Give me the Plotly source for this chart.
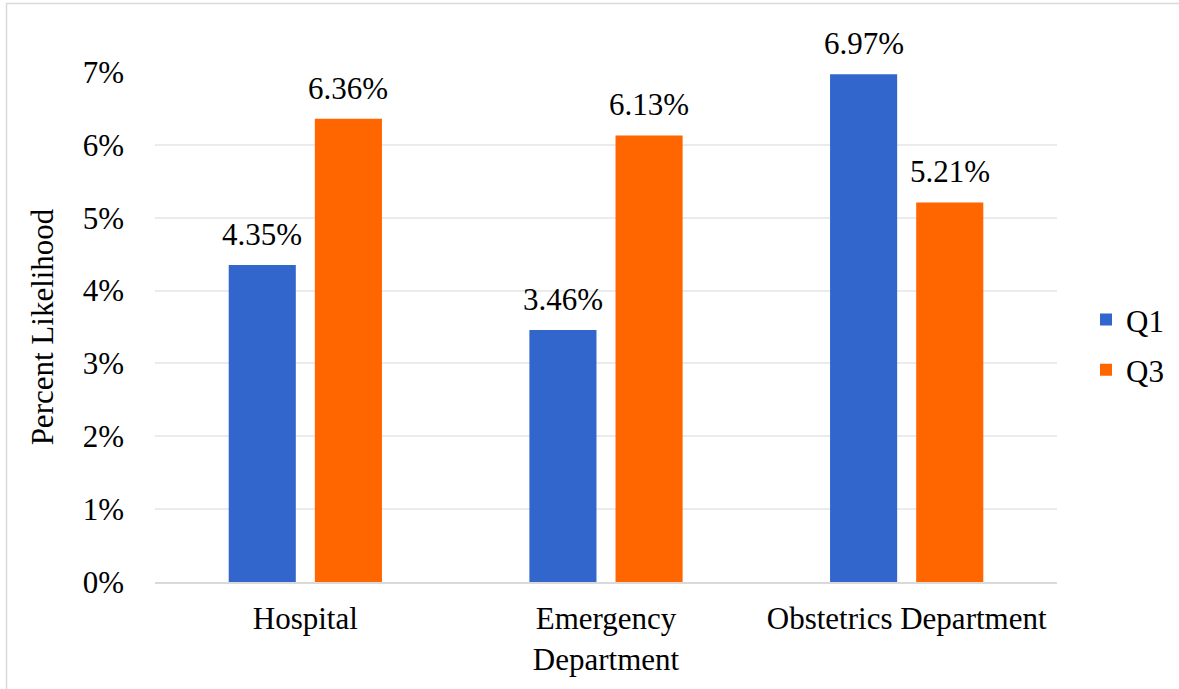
import plotly.graph_objects as go

categories = ["Hospital", "Emergency<br>Department", "Obstetrics Department"]
q1_values = [4.35, 3.46, 6.97]
q3_values = [6.36, 6.13, 5.21]
y_ticks = [0, 1, 2, 3, 4, 5, 6, 7]
y_tick_text = ["0%", "1%", "2%", "3%", "4%", "5%", "6%", "7%"]

W, H = 1179, 689
L, R, T, B = 155, 122, 72, 107
FAMILY = "Liberation Serif, Times New Roman, serif"
FONT = dict(family=FAMILY, size=31, color="#000000")

series = [("Q1", q1_values, "#3366CC", -43), ("Q3", q3_values, "#FF6600", 43)]

fig = go.Figure()
for name, vals, color, _ in series:
    fig.add_trace(go.Bar(
        x=categories, y=vals, name=name, legendgroup=name,
        marker=dict(color=color, line=dict(width=0)),
    ))

# value labels above each bar
for name, vals, color, dx in series:
    for cat, v in zip(categories, vals):
        fig.add_annotation(
            x=cat, y=v, text=f"{v:.2f}%", showarrow=False,
            xshift=dx, yshift=11, yanchor="bottom", font=FONT,
        )

pw = W - L - R
ph = H - T - B
# outer chart border (right/bottom edges run off the canvas)
fig.add_shape(
    type="rect", xref="paper", yref="paper",
    x0=(6.5 - L) / pw, x1=(W + 5 - L) / pw,
    y0=-(B + 5) / ph, y1=1 + (T - 3.5) / ph,
    line=dict(color="#D9D9D9", width=1.5), fillcolor="rgba(0,0,0,0)", layer="below",
)

fig.update_layout(
    width=W, height=H,
    margin=dict(l=L, r=R, t=T, b=B, autoexpand=False),
    paper_bgcolor="white", plot_bgcolor="white",
    font=FONT,
    barmode="group", bargap=0.427, bargroupgap=0.221,
    showlegend=True,
    legend=dict(
        x=(1086 - L) / pw, xanchor="left", y=0.465, yanchor="middle",
        font=FONT, bgcolor="rgba(0,0,0,0)", tracegroupgap=7,
        itemwidth=30,
    ),
    xaxis=dict(
        showgrid=False, showline=True, linecolor="#D9D9D9", linewidth=2,
        ticks="", ticklabelstandoff=8, tickfont=FONT,
    ),
    yaxis=dict(
        range=[0, 7], tickmode="array", tickvals=y_ticks, ticktext=y_tick_text,
        showgrid=True, gridcolor="#EBEBEB", gridwidth=1.5,
        zeroline=False, showline=False, ticks="",
        ticklabelstandoff=30, tickfont=FONT,
        title=dict(text="Percent Likelihood", font=FONT, standoff=19),
    ),
)

fig.write_html("out.html")
